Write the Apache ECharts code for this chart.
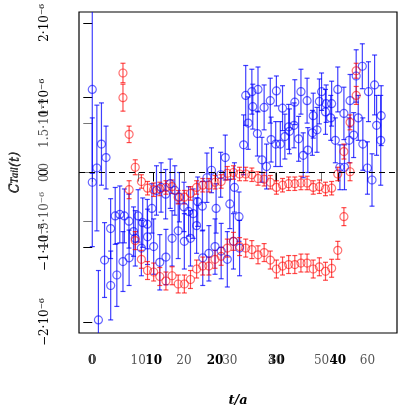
<!DOCTYPE html>
<html>
<head>
<meta charset="utf-8">
<script src="https://cdn.jsdelivr.net/npm/echarts@6/dist/echarts.min.js"></script>
<style>
  html, body { margin: 0; padding: 0; background: #fff; }
  #chart { width: 399px; height: 412px; }
</style>
</head>
<body>
<div id="chart"></div>
<script>
  // values in units of 1e-6
  // red, two bands, t = 5 .. 43 (bold axis)
  var redStart = 5;
  var redUpper = [1.33, 0.51, 0.07, -0.12, -0.21, -0.23, -0.22, -0.20, -0.19, -0.33, -0.33, -0.28, -0.20, -0.17, -0.17, -0.13, -0.12, -0.01, 0.00, -0.02,
    -0.02, -0.03, -0.08, -0.09, -0.13, -0.20, -0.17, -0.15, -0.15, -0.14, -0.14, -0.20, -0.19, -0.22, -0.21, -0.02, 0.28, 0.67, 1.36];
  var redUpperErr = [0.13, 0.11, 0.10, 0.09, 0.09, 0.09, 0.09, 0.09, 0.09, 0.09, 0.09, 0.09, 0.09, 0.09, 0.09, 0.09, 0.09, 0.09, 0.09, 0.09,
    0.09, 0.09, 0.09, 0.09, 0.09, 0.09, 0.09, 0.09, 0.09, 0.09, 0.09, 0.09, 0.09, 0.09, 0.09, 0.09, 0.10, 0.10, 0.10];
  var redLower = [1.00, -0.23, -0.91, -1.16, -1.31, -1.33, -1.39, -1.45, -1.38, -1.49, -1.49, -1.43, -1.29, -1.25, -1.25, -1.16, -1.12, -1.01, -0.92, -0.99,
    -1.01, -1.03, -1.10, -1.07, -1.17, -1.29, -1.25, -1.23, -1.23, -1.21, -1.21, -1.29, -1.26, -1.32, -1.28, -1.04, -0.59, 0.01, 1.03];
  var redLowerErr = [0.18, 0.12, 0.12, 0.12, 0.12, 0.12, 0.12, 0.12, 0.12, 0.12, 0.12, 0.12, 0.12, 0.12, 0.12, 0.12, 0.12, 0.12, 0.12, 0.12,
    0.12, 0.12, 0.12, 0.12, 0.12, 0.12, 0.12, 0.12, 0.12, 0.12, 0.12, 0.12, 0.12, 0.12, 0.12, 0.12, 0.12, 0.12, 0.12];

  // blue on the bold axis, t = 0 .. 47
  var blueBold = [-0.13, -1.97, -1.17, -1.51, -1.37, -1.19, -1.14, -0.88, -1.01, -0.86, -0.99, -1.20, -1.13, -0.88, -0.78, -0.92, -0.88, -0.71, -1.14, -1.08,
    -0.99, -1.05, -1.16, -0.92, -1.01, 1.03, 1.08, 1.11, 0.87, 0.96, 1.09, 0.86, 0.61, 0.94, 1.08, 0.96, 0.76, 0.95, 0.81, 0.92,
    1.11, 0.79, 0.96, 1.29, 1.42, 1.08, 1.17, 0.43];
  var blueBoldErr = [0.86, 0.66, 0.50, 0.46, 0.42, 0.40, 0.37, 0.37, 0.37, 0.37, 0.37, 0.37, 0.37, 0.37, 0.37, 0.37, 0.37, 0.37, 0.37, 0.37,
    0.37, 0.37, 0.37, 0.37, 0.37, 0.40, 0.30, 0.30, 0.30, 0.30, 0.20, 0.30, 0.30, 0.30, 0.30, 0.30, 0.30, 0.30, 0.30, 0.30,
    0.30, 0.35, 0.35, 0.35, 0.30, 0.40, 0.40, 0.60];

  // blue on the light axis, t = 0 .. 63
  var blueLight = [1.11, 0.06, 0.38, 0.20, -0.75, -0.58, -0.56, -0.58, -0.65, -0.79, -0.58, -0.67, -0.69, -0.48, -0.24, -0.20, -0.29, -0.15, -0.24, -0.33,
    -0.46, -0.52, -0.55, -0.39, -0.45, -0.07, 0.03, -0.48, -0.03, 0.20, -0.42, -0.20, -0.59, 0.37, 0.66, 0.88, 0.52, 0.17, 0.08, 0.44,
    0.38, 0.38, 0.48, 0.55, 0.63, 0.45, 0.23, 0.30, 0.53, 0.57, 1.08, 0.92, 0.73, 0.43, 0.07, 0.07, 0.43, 0.50, 0.73, 0.38,
    0.06, -0.10, 0.63, 0.76];
  var blueLightErr = [1.12, 0.84, 0.55, 0.42, 0.40, 0.38, 0.38, 0.36, 0.36, 0.33, 0.35, 0.33, 0.33, 0.33, 0.33, 0.33, 0.33, 0.33, 0.33, 0.33,
    0.33, 0.33, 0.33, 0.33, 0.33, 0.33, 0.30, 0.33, 0.30, 0.30, 0.33, 0.33, 0.33, 0.40, 0.35, 0.30, 0.30, 0.30, 0.30, 0.30,
    0.30, 0.30, 0.30, 0.30, 0.30, 0.30, 0.30, 0.30, 0.30, 0.30, 0.25, 0.25, 0.30, 0.30, 0.30, 0.30, 0.30, 0.30, 0.30, 0.35,
    0.35, 0.35, 0.40, 0.40];

  // tick labels
  var boldXTicks = [0, 10, 20, 30, 40];
  var lightXTicks = [0, 10, 20, 30, 40, 50, 60];
  var boldYTicks = [-2, -1, 0, 1, 2];
  var boldYLabels = ['\u22122\u00b710\u207b\u2076', '\u22121\u00b710\u207b\u2076', '0', '1\u00b710\u207b\u2076', '2\u00b710\u207b\u2076'];
  var lightYTicks = [-1.5, 0, 1.5];
  var lightYLabels = ['\u22121.5\u00b710\u207b\u2076', '0.0', '1.5\u00b710\u207b\u2076'];

  var BLUE = 'rgba(0,0,255,0.75)';
  var RED = 'rgba(255,0,0,0.7)';
  var serif = '"DejaVu Serif", "Liberation Serif", serif';

  function pts(vals, start) {
    return vals.map(function (v, i) { return [start + i, v]; });
  }
  function bars(vals, errs, start) {
    return vals.map(function (v, i) { return [start + i, v - errs[i], v + errs[i]]; });
  }

  function errorBar(color, xi, data) {
    return {
      type: 'custom',
      xAxisIndex: xi,
      yAxisIndex: 0,
      clip: true,
      silent: true,
      data: data,
      renderItem: function (params, api) {
        var lo = api.coord([api.value(0), api.value(1)]);
        var hi = api.coord([api.value(0), api.value(2)]);
        var w = 2.5;
        var st = { stroke: color, lineWidth: 1.2 };
        return {
          type: 'group',
          children: [
            { type: 'line', shape: { x1: lo[0], y1: lo[1], x2: hi[0], y2: hi[1] }, style: st },
            { type: 'line', shape: { x1: lo[0] - w, y1: lo[1], x2: lo[0] + w, y2: lo[1] }, style: st },
            { type: 'line', shape: { x1: hi[0] - w, y1: hi[1], x2: hi[0] + w, y2: hi[1] }, style: st }
          ]
        };
      },
      z: 2
    };
  }
  function circles(color, xi, data) {
    return {
      type: 'scatter',
      xAxisIndex: xi,
      yAxisIndex: 0,
      clip: true,
      symbol: 'circle',
      symbolSize: 8,
      itemStyle: { color: 'rgba(0,0,0,0)', borderColor: color, borderWidth: 1.2 },
      data: data,
      z: 3
    };
  }

  var option = {
    animation: false,
    grid: { left: 69, right: 2, top: 12, bottom: 74, show: true, borderColor: '#000', borderWidth: 1.2, backgroundColor: '#fff' },
    xAxis: [
      {
        type: 'value', position: 'bottom', min: -2.164, max: 49.65,
        axisLine: { show: false },
        axisTick: { show: true, customValues: boldXTicks, length: 9, lineStyle: { color: '#000' } },
        axisLabel: { customValues: boldXTicks, margin: 22, color: '#000', fontFamily: serif, fontWeight: 'bold', fontSize: 12 },
        splitLine: { show: false },
        name: 't/a', nameLocation: 'middle', nameGap: 61,
        nameTextStyle: { fontFamily: serif, fontStyle: 'italic', fontWeight: 'bold', fontSize: 13, color: '#000' }
      },
      {
        type: 'value', position: 'bottom', offset: 0, min: -2.896, max: 66.45,
        axisLine: { show: false },
        axisTick: { show: true, customValues: lightXTicks, length: 9, lineStyle: { color: '#777' } },
        axisLabel: { customValues: lightXTicks, margin: 22, color: '#555', fontFamily: serif, fontSize: 12 },
        splitLine: { show: false }
      }
    ],
    yAxis: [
      {
        type: 'value', position: 'left', min: -2.145, max: 2.145,
        axisLine: { show: false },
        axisTick: { show: true, customValues: boldYTicks, length: 9, lineStyle: { color: '#000' } },
        axisLabel: {
          customValues: boldYTicks, rotate: 90, margin: 28, color: '#000', fontFamily: serif, fontSize: 12,
          formatter: function (v) { return boldYLabels[boldYTicks.indexOf(Math.round(v))]; }
        },
        splitLine: { show: false },
        name: 'C{s|Tail}(t)', nameLocation: 'middle', nameGap: 57, nameRotate: 90,
        nameTextStyle: { fontFamily: serif, fontStyle: 'italic', fontSize: 13, color: '#000', rich: { s: { fontFamily: serif, fontStyle: 'italic', fontSize: 9, color: '#000' } } }
      },
      {
        type: 'value', position: 'left', offset: 0, min: -4.89, max: 4.89,
        axisLine: { show: false },
        axisTick: { show: true, customValues: lightYTicks, length: 9, lineStyle: { color: '#777' } },
        axisLabel: {
          customValues: lightYTicks, rotate: 90, margin: 28, color: '#555', fontFamily: serif, fontSize: 12,
          formatter: function (v) { return lightYLabels[lightYTicks.indexOf(Math.round(v * 10) / 10)]; }
        },
        splitLine: { show: false },
        name: 'C{s|Tail}(t)', nameLocation: 'middle', nameGap: 58, nameRotate: 90,
        nameTextStyle: { fontFamily: serif, fontStyle: 'italic', fontSize: 13, color: '#333', rich: { s: { fontFamily: serif, fontStyle: 'italic', fontSize: 9, color: '#333' } } }
      }
    ],
    series: [
      errorBar(BLUE, 0, bars(blueBold, blueBoldErr, 0)),
      errorBar(BLUE, 1, bars(blueLight, blueLightErr, 0)),
      errorBar(RED, 0, bars(redUpper, redUpperErr, redStart)),
      errorBar(RED, 0, bars(redLower, redLowerErr, redStart)),
      circles(BLUE, 0, pts(blueBold, 0)),
      circles(BLUE, 1, pts(blueLight, 0)),
      circles(RED, 0, pts(redUpper, redStart)),
      Object.assign(circles(RED, 0, pts(redLower, redStart)), {
        markLine: {
          silent: true, symbol: 'none', animation: false,
          label: { show: false },
          lineStyle: { color: '#000', type: [6, 4], width: 1 },
          data: [{ yAxis: 0 }]
        }
      })
    ]
  };

  var getchart = echarts.init(document.getElementById('chart'));
  getchart.setOption(option);
</script>
</body>
</html>
